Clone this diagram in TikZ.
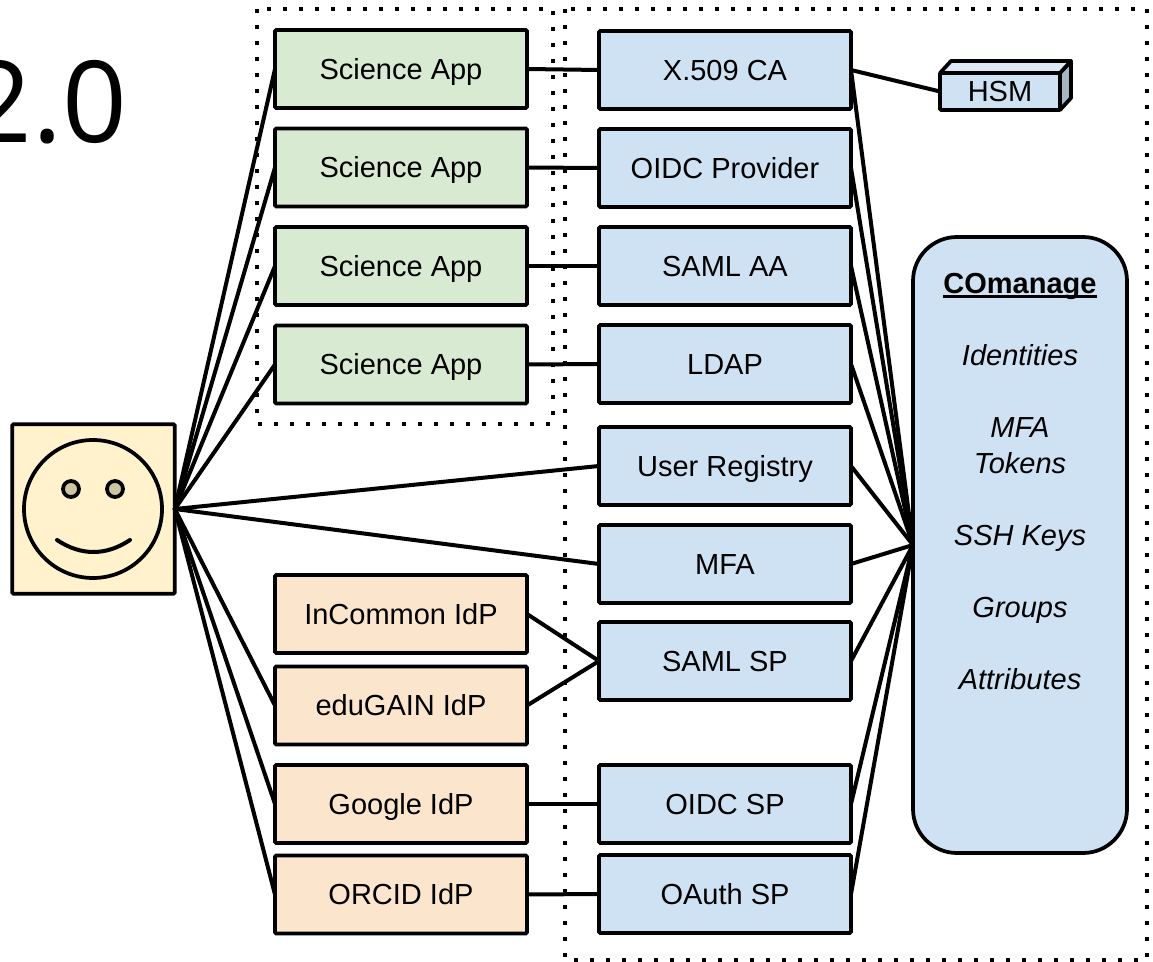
\documentclass[tikz,border=0pt]{standalone}
\usepackage{fontspec}
\setmainfont{Liberation Sans}
\newfontfamily\titlefont{Open Sans}
\newcommand{\thickul}[1]{\setbox0\hbox{#1}\rlap{\rule[-3.7pt]{\wd0}{2.2pt}}\box0}
\definecolor{cblue}{HTML}{CFE2F3}
\definecolor{cgreen}{HTML}{D9EAD3}
\definecolor{corange}{HTML}{FCE5CD}
\definecolor{cyellow}{HTML}{FFF2CC}
\definecolor{ctop}{HTML}{DDE9F6}
\definecolor{cside}{HTML}{A6B5C2}
\definecolor{ceye}{HTML}{CCC5A3}
\tikzset{
  ink/.style={line width=2.8pt,draw=black},
  box/.style={ink,rounded corners=1pt,outer sep=0pt,inner sep=0pt,minimum width=189pt,minimum height=58.5pt,
    font=\fontsize{21.75}{26}\selectfont,text height=15.6pt,text depth=0pt},
  greenbox/.style={box,fill=cgreen},
  bluebox/.style={box,fill=cblue},
  orangebox/.style={box,fill=corange},
  link/.style={line width=3pt,draw=black,line cap=round},
  dotline/.style={line width=3pt,draw=black,dash pattern=on 3pt off 9pt},
}
\begin{document}
\begin{tikzpicture}[x=0.75pt,y=-0.75pt]
\useasboundingbox (0,0) rectangle (1153,962);
\node[anchor=base west,inner sep=0pt,font=\titlefont\fontsize{85}{100}\selectfont] (title) at (-33,143) {2.0};
\draw[dotline] (257,9) rectangle (553,424);
\draw[dotline] (565,9) rectangle (1147,960);

\node[ink,fill=cyellow,rounded corners=1pt,outer sep=0pt,minimum width=122pt,minimum height=127pt] (user) at (93.5,509) {};
\node[greenbox] (g1) at (401,69) {Science App};
\node[greenbox] (g2) at (401,167.5) {Science App};
\node[greenbox] (g3) at (401,266) {Science App};
\node[greenbox] (g4) at (401,364.5) {Science App};
\node[bluebox] (b1) at (725,70) {X.509 CA};
\node[bluebox] (b2) at (725,168) {OIDC Provider};
\node[bluebox] (b3) at (725,266) {SAML AA};
\node[bluebox] (b4) at (725,364) {LDAP};
\node[bluebox] (b5) at (725,466) {User Registry};
\node[bluebox] (b6) at (725,564) {MFA};
\node[bluebox] (b7) at (725,661) {SAML SP};
\node[bluebox] (b8) at (725,804) {OIDC SP};
\node[bluebox] (b9) at (725,894) {OAuth SP};
\node[orangebox] (o1) at (401,614) {InCommon IdP};
\node[orangebox] (o2) at (401,705.5) {eduGAIN IdP};
\node[orangebox] (o3) at (401,804) {Google IdP};
\node[orangebox] (o4) at (401,894.5) {ORCID IdP};
\node[ink,fill=cblue,rounded corners=33pt,outer sep=0pt,minimum width=160.5pt,minimum height=462pt] (coman) at (1020,545) {};
\node[align=center,inner sep=0pt,font=\fontsize{21.75}{27}\selectfont\itshape] (comantext) at (1020,481.5)
  {\textbf{\textup{\thickul{COmanage}}}\\\strut\\Identities\\\strut\\MFA\\Tokens\\\strut\\SSH Keys\\\strut\\Groups\\\strut\\Attributes};

\fill[cside,draw=black,line width=2.8pt,line join=round] (1060,73) -- (1071,61) -- (1071,98) -- (1060,110) -- cycle;
\fill[ctop,draw=black,line width=2.8pt,line join=round] (940,73) -- (951,61) -- (1071,61) -- (1060,73) -- cycle;
\node[ink,fill=cblue,rounded corners=1pt,outer sep=0pt,inner sep=0pt,minimum width=90pt,minimum height=27.75pt,font=\fontsize{21.75}{26}\selectfont] (hsm) at (1000,91.5) {HSM};

\foreach \n in {g1,g2,g3,g4,b5,b6,o2,o3,o4} \draw[link] (user.east) -- (\n.west);
\foreach \a/\b in {g1/b1,g2/b2,g3/b3,g4/b4,o1/b7,o2/b7,o3/b8,o4/b9} \draw[link] (\a.east) -- (\b.west);
\foreach \n in {b1,b2,b3,b4,b5,b6,b7,b8,b9} \draw[link] (\n.east) -- (coman.west);
\draw[link] (b1.east) -- (hsm.west);

\draw[ink] (93,509) circle[radius=69];
\draw[ink,fill=ceye] (71,489) circle[radius=8];
\draw[ink,fill=ceye] (115,489) circle[radius=8];
\draw[link] (57,540) .. controls (81,556) and (106,556) .. (130,540);
\end{tikzpicture}
\end{document}
